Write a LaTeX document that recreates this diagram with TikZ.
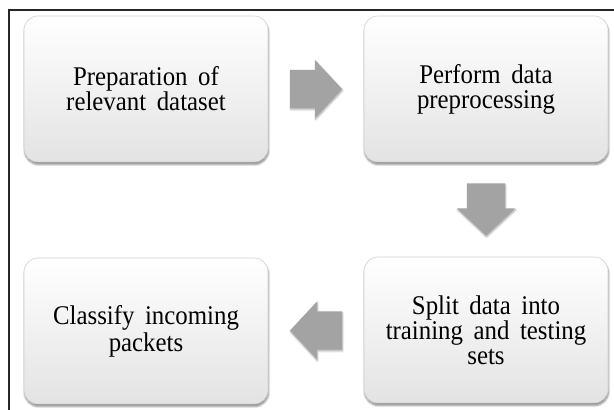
\documentclass[tikz,border=0pt]{standalone}
\usepackage{fontspec}
\setmainfont{Liberation Serif}
\newfontfamily\stagefont[FakeStretch=0.92, WordSpace=1.7]{Liberation Serif}
\usetikzlibrary{shadows.blur,calc}

\tikzset{
  stage/.style={rectangle, rounded corners=14pt, draw=black!18, line width=0.6pt,
    top color=white, bottom color=black!11,
    minimum width=244pt, minimum height=146pt, inner sep=0pt,
    align=center, font=\stagefont\fontsize{27}{25}\selectfont,
    blur shadow={shadow xshift=0.6pt, shadow yshift=-2.6pt, shadow blur steps=6, shadow opacity=45}},
  flow/.style={fill=black!36,
    blur shadow={shadow xshift=0.6pt, shadow yshift=-1.5pt, shadow blur steps=4, shadow opacity=35}},
  blockarrow/.pic={
    \fill[flow] (-26,-19) -- (-1,-19) -- (-1,-29) -- (26,0) -- (-1,29) -- (-1,19) -- (-26,19) -- cycle;
  }
}

\begin{document}
\begin{tikzpicture}[x=1pt,y=1pt]
\useasboundingbox (0,0) rectangle (614,410);
\draw[line width=1.1pt, black!85] (9,0) |- (614,400);

\node[stage] (prep)  at (146,321) {Preparation of\\relevant dataset};
\node[stage] (proc)  at (486,321) {Perform data\\preprocessing};
\node[stage] (split) at (486,80)  {Split data into\\training and testing\\sets};
\node[stage] (clas)  at (146,79)  {Classify incoming\\[2pt]packets};

\coordinate (m1) at ($(prep.east)!0.5!(proc.west)$);
\coordinate (m2) at ($(proc.south)!0.5!(split.north)$);
\coordinate (m3) at ($(split.west)!0.5!(clas.east)$);
\pic at (m1) {blockarrow};
\pic[rotate=270] at (m2) {blockarrow};
\pic[rotate=180] at (m3) {blockarrow};
\end{tikzpicture}
\end{document}
